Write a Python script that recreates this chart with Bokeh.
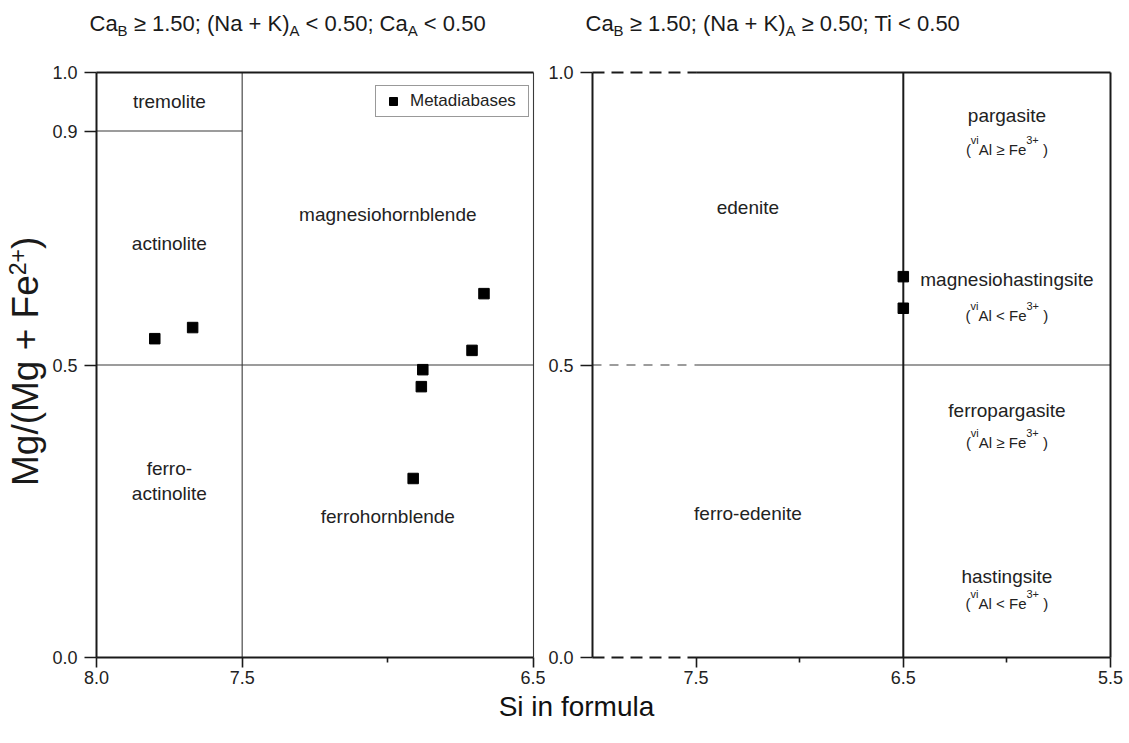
import math

from bokeh.embed import file_html
from bokeh.layouts import column, row
from bokeh.models import (ColumnDataSource, FixedTicker, Label, Legend, LegendItem,
                          PrintfTickFormatter, Range1d)
from bokeh.plotting import figure
from bokeh.resources import INLINE

FONT = "Liberation Sans"
INK = "#1a1a1a"
THIN = "#3a3a3a"

# ---- amphibole analyses: Si (apfu) against Mg/(Mg + Fe2+) ----
low_a_si = [7.80, 7.67, 6.88, 6.885, 6.913, 6.711, 6.670]
low_a_mg = [0.545, 0.564, 0.492, 0.463, 0.306, 0.525, 0.622]
high_a_si = [6.50, 6.50]
high_a_mg = [0.651, 0.597]
series_name = "Metadiabases"

# ---- axis ticks ----
left_x_ticks = [8.0, 7.5, 6.5]
left_x_minor = [7.0]
left_y_ticks = [0.0, 0.5, 0.9, 1.0]
right_x_ticks = [7.5, 6.5, 5.5]
right_x_minor = [7.0, 6.0]
right_y_ticks = [0.0, 0.5, 1.0]

# ---- field boundaries (x0, y0, x1, y1) ----
left_frame = [(8.0, 0.0, 8.0, 1.0), (8.0, 0.0, 6.5, 0.0), (8.0, 1.0, 6.5, 1.0)]
left_fields_lines = [(6.5, 0.0, 6.5, 1.0), (7.5, 0.0, 7.5, 1.0),
                     (8.0, 0.9, 7.5, 0.9), (8.0, 0.5, 6.5, 0.5)]
right_frame = [(8.0, 0.0, 8.0, 1.0), (7.5, 0.0, 5.5, 0.0), (7.5, 1.0, 5.5, 1.0),
               (5.5, 0.0, 5.5, 1.0), (6.5, 0.0, 6.5, 1.0)]
right_frame_open = [(8.0, 0.0, 7.5, 0.0), (8.0, 1.0, 7.5, 1.0)]
right_fields_lines = [(7.5, 0.5, 5.5, 0.5)]
right_fields_open = [(8.0, 0.5, 7.5, 0.5)]

# ---- field names (name, Si, Mg#) ----
left_names = [("tremolite", 7.75, 0.95), ("actinolite", 7.75, 0.708),
              ("ferro-", 7.75, 0.323), ("actinolite", 7.75, 0.28),
              ("magnesiohornblende", 7.0, 0.757), ("ferrohornblende", 7.0, 0.241)]
right_names = [("edenite", 7.25, 0.769), ("ferro-edenite", 7.25, 0.246),
               ("pargasite", 6.0, 0.926), ("magnesiohastingsite", 6.0, 0.646),
               ("ferropargasite", 6.0, 0.422), ("hastingsite", 6.0, 0.138)]
# viAl vs Fe3+ condition under each right-hand name (relation, Si, Mg# of baseline)
right_conditions = [("≥", 6.0, 0.859), ("<", 6.0, 0.575),
                    ("≥", 6.0, 0.358), ("<", 6.0, 0.083)]

left_title = [("Ca", "n"), ("B", "sub"), (" ≥ 1.50; (Na + K)", "n"), ("A", "sub"),
              (" < 0.50; Ca", "n"), ("A", "sub"), (" < 0.50", "n")]
right_title = [("Ca", "n"), ("B", "sub"), (" ≥ 1.50; (Na + K)", "n"), ("A", "sub"),
               (" ≥ 0.50; Ti < 0.50", "n")]
y_title = [("Mg/(Mg + Fe", "n"), ("2+", "sup"), (")", "n")]
x_title = "Si in formula"

# Arial / Liberation Sans advance widths (1/1000 em)
ADV = {' ': 278, '(': 333, ')': 333, '+': 584, '.': 278, '/': 278, ';': 278,
       '<': 584, '≥': 549, '-': 333, 'A': 667, 'B': 667, 'C': 722, 'F': 611,
       'K': 667, 'M': 833, 'N': 722, 'T': 611, 'i': 222, 'l': 222, 'v': 500,
       's': 500, 't': 278, 'r': 333, 'f': 278, 'm': 833}
MID = 0.35   # em-box middle above the alphabetic baseline


def text_width(s, size):
    return sum(ADV.get(c, 556) for c in s) * size / 1000.0


def rich_text(p, x, y, runs, size, align="left", dx=0.0, dy=0.0, angle=0.0,
              small=0.66, sup_raise=0.42, sub_drop=0.2, color=INK):
    """Lay out runs of normal / subscript / superscript text along one baseline."""
    pieces = []
    for txt, mode in runs:
        fs = size if mode == "n" else round(size * small)
        shift = 0.0 if mode == "n" else (-sub_drop * size if mode == "sub" else sup_raise * size)
        pieces.append((txt, fs, shift, text_width(txt, fs)))
    total = sum(pc[3] for pc in pieces)
    pos = -total / 2.0 if align == "center" else 0.0
    for txt, fs, shift, w in pieces:
        body = txt.strip(" ")
        lead = text_width(txt[:len(txt) - len(txt.lstrip(" "))], fs)
        lift = shift + MID * fs
        if angle:
            xo, yo = dx - lift, dy + pos + lead
        else:
            xo, yo = dx + pos + lead, dy + lift
        p.add_layout(Label(x=x, y=y, x_offset=xo, y_offset=yo, text=body, angle=angle,
                           text_font=FONT, text_font_size=f"{fs}px", text_color=color,
                           text_align="left", text_baseline="middle"))
        pos += w


def segments(p, segs, **style):
    src = ColumnDataSource(dict(x0=[s[0] for s in segs], y0=[s[1] for s in segs],
                                x1=[s[2] for s in segs], y1=[s[3] for s in segs]))
    p.segment("x0", "y0", "x1", "y1", source=src, **style)


def strip(width, height):
    """Blank canvas whose data units are pixels, for titles around the panels."""
    s = figure(width=width, height=height, output_backend="svg", toolbar_location=None,
               title=None, x_range=Range1d(0, width), y_range=Range1d(0, height),
               x_axis_location=None, y_axis_location=None,
               min_border_left=0, min_border_right=0, min_border_top=0,
               min_border_bottom=0)
    s.outline_line_color = None
    s.grid.visible = False
    return s


def panel(width, height, x_lo, x_hi, px_per_x, border_left, border_right,
          border_top, border_bottom, xt, xm, yt):
    pad_x = 2.0 / px_per_x
    pad_y = 2.0 / 585.0
    p = figure(width=width, height=height, output_backend="svg", toolbar_location=None,
               title=None,
               x_range=Range1d(x_lo + pad_x, x_hi - pad_x),
               y_range=Range1d(0.0 - pad_y, 1.0 + pad_y),
               min_border_left=border_left, min_border_right=border_right,
               min_border_top=border_top, min_border_bottom=border_bottom)
    p.outline_line_color = None
    p.grid.visible = False
    p.background_fill_color = "white"
    p.border_fill_color = "white"
    p.xaxis.ticker = FixedTicker(ticks=xt, minor_ticks=xm)
    p.yaxis.ticker = FixedTicker(ticks=yt, minor_ticks=[])
    for ax in (p.xaxis[0], p.yaxis[0]):
        ax.formatter = PrintfTickFormatter(format="%.1f")
        ax.axis_line_color = None
        ax.major_tick_line_color = INK
        ax.major_tick_line_width = 1.6
        ax.minor_tick_line_color = INK
        ax.minor_tick_line_width = 1.6
        ax.major_label_text_font = FONT
        ax.major_label_text_font_size = "18px"
        ax.major_label_text_color = "#222222"
    p.xaxis.major_tick_in = 2
    p.xaxis.major_tick_out = 8
    p.xaxis.minor_tick_in = 2
    p.xaxis.minor_tick_out = 3
    p.xaxis.major_label_standoff = 3
    p.yaxis.major_tick_in = 2
    p.yaxis.major_tick_out = 10
    p.yaxis.major_label_standoff = 7
    return p


TOP_H = 45
ROW_H = 647
BOTTOM_H = 743 - TOP_H - ROW_H
YLAB_W = 48

# ---------------- left panel: (Na + K)A < 0.50 ----------------
p1 = panel(545 - YLAB_W, ROW_H, 8.0, 6.5, 437.0 / 1.5, 94 - YLAB_W, 10, 25, 33,
           left_x_ticks, left_x_minor, left_y_ticks)
segments(p1, left_fields_lines, line_color=THIN, line_width=1.1)
segments(p1, left_frame, line_color=INK, line_width=2)

for name, sx, my in left_names:
    p1.add_layout(Label(x=sx, y=my, text=name, text_font=FONT, text_font_size="19px",
                        text_color="#222222", text_align="center", text_baseline="middle"))

pts1 = p1.scatter(low_a_si, low_a_mg, marker="square", size=10.5,
                  fill_color="black", line_color="black", line_width=1)

legend = Legend(items=[LegendItem(label=series_name, renderers=[pts1])],
                location=(281, 542), padding=5, glyph_width=24, glyph_height=20,
                label_standoff=5, label_width=113, label_height=20, spacing=0,
                label_text_font=FONT, label_text_font_size="17px",
                label_text_color="#222222", border_line_color="#333333",
                border_line_width=1, background_fill_color="white",
                background_fill_alpha=1.0)
p1.add_layout(legend)

# ---------------- right panel: (Na + K)A >= 0.50 ----------------
p2 = panel(584, ROW_H, 8.0, 5.5, 208.0, 43, 17, 25, 33,
           right_x_ticks, right_x_minor, right_y_ticks)
segments(p2, right_fields_lines, line_color=THIN, line_width=1.1)
segments(p2, right_fields_open, line_color=THIN, line_width=1.1, line_dash="9 8")
segments(p2, right_frame, line_color=INK, line_width=2)
segments(p2, right_frame_open, line_color=INK, line_width=2, line_dash="12 7")

for name, sx, my in right_names:
    p2.add_layout(Label(x=sx, y=my, text=name, text_font=FONT, text_font_size="19px",
                        text_color="#222222", text_align="center", text_baseline="middle"))

for rel, sx, my in right_conditions:
    runs = [("(", "n"), ("vi", "sup"), (f"Al {rel} Fe", "n"), ("3+", "sup"), (" )", "n")]
    rich_text(p2, sx, my, runs, 15, align="center", small=0.74, sup_raise=0.75,
              color="#222222")

p2.scatter(high_a_si, high_a_mg, marker="square", size=10.5,
           fill_color="black", line_color="black", line_width=1)

# ---------------- titles around the panels ----------------
top = strip(1129, TOP_H)
rich_text(top, 89, TOP_H - 31, left_title, 22, small=0.68, sub_drop=0.2)
rich_text(top, 585, TOP_H - 31, right_title, 22, small=0.68, sub_drop=0.2)

# y title centred on the panel height
ylab = strip(YLAB_W, ROW_H)
rich_text(ylab, 38, ROW_H - (364.5 - TOP_H), y_title, 37, align="center",
          angle=math.pi / 2, small=0.62, sup_raise=0.36)

bottom = strip(1129, BOTTOM_H)
bottom.add_layout(Label(x=576, y=743 - 716 + MID * 28, text=x_title, text_font=FONT,
                        text_font_size="28px", text_color="#111111",
                        text_align="center", text_baseline="middle"))

layout = column(top, row(ylab, p1, p2), bottom)
open("out.html", "w").write(file_html(layout, INLINE))
